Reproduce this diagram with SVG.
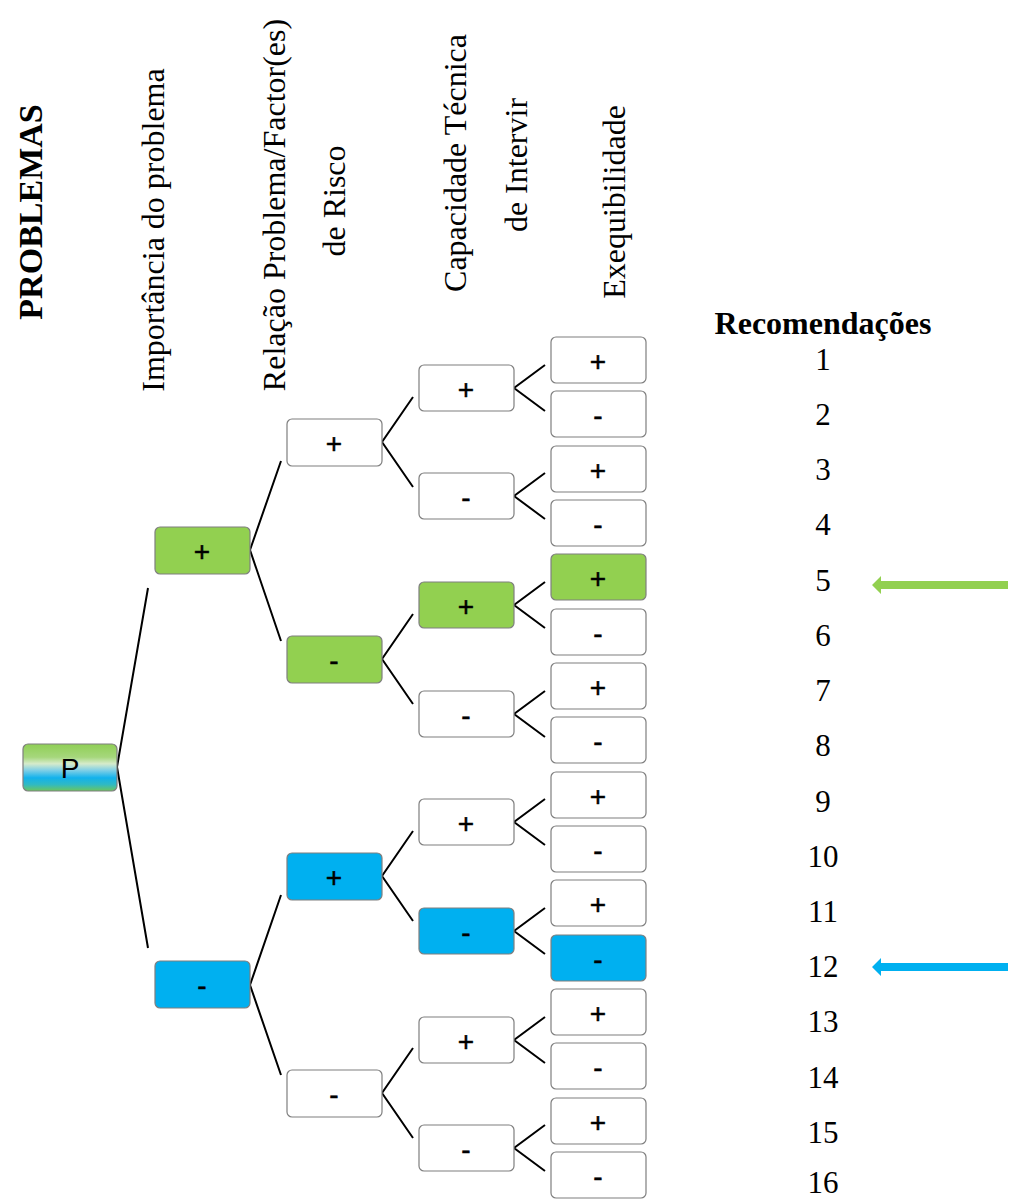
<svg xmlns="http://www.w3.org/2000/svg" width="1009" height="1201" viewBox="0 0 1009 1201">
<defs>
<linearGradient id="gP" x1="0" y1="0" x2="0" y2="1">
<stop offset="0" stop-color="#8fcf55"/>
<stop offset="0.28" stop-color="#a6d77c"/>
<stop offset="0.42" stop-color="#d6ebcb"/>
<stop offset="0.56" stop-color="#7fcfe6"/>
<stop offset="0.72" stop-color="#12b2ec"/>
<stop offset="0.86" stop-color="#2fb9c4"/>
<stop offset="1" stop-color="#6cc65c"/>
</linearGradient>
</defs>
<style>
.box{stroke:#7f7f7f;stroke-width:1.2}
.w{fill:#ffffff}
.g{fill:#92d050}
.b{fill:#00b0f0}
.bt{font-family:"Liberation Sans","Open Sans",sans-serif;font-size:28px;fill:#000;stroke:#000;stroke-width:0.5;text-anchor:middle;dominant-baseline:central}
.hd{font-family:"Liberation Serif","Times New Roman",serif;font-size:32px;fill:#000;text-anchor:middle}
.hb{font-weight:bold}
.num{font-family:"Liberation Serif","Times New Roman",serif;font-size:31px;fill:#000;text-anchor:middle}
.cn{stroke:#000;stroke-width:2;fill:none}
</style>

<g id="headers">
<text class="hd hb" transform="translate(42,212) rotate(-90)" style="font-size:34px">PROBLEMAS</text>
<text class="hd" transform="translate(164,230) rotate(-90)">Importância do problema</text>
<text class="hd" transform="translate(285,205) rotate(-90)">Relação Problema/Factor(es)</text>
<text class="hd" transform="translate(345,201) rotate(-90)">de Risco</text>
<text class="hd" transform="translate(466,163) rotate(-90)">Capacidade Técnica</text>
<text class="hd" transform="translate(527,165) rotate(-90)">de Intervir</text>
<text class="hd" transform="translate(625,202) rotate(-90)">Exequibilidade</text>
<text class="hd hb" x="823" y="334">Recomendações</text>
</g>

<g id="connectors">
<path class="cn" d="M148,588 L117,767 L148,948"/>
<path class="cn" d="M281,461 L250,550 L281,641"/>
<path class="cn" d="M281,895 L250,985 L281,1075"/>
<path class="cn" d="M413,397 L382,442 L413,487"/>
<path class="cn" d="M413,614 L382,659 L413,704"/>
<path class="cn" d="M413,831 L382,876 L413,921"/>
<path class="cn" d="M413,1048 L382,1093 L413,1138"/>
<path class="cn" d="M545,365 L514,388 L545,411"/>
<path class="cn" d="M545,473 L514,496 L545,519"/>
<path class="cn" d="M545,582 L514,605 L545,628"/>
<path class="cn" d="M545,691 L514,714 L545,737"/>
<path class="cn" d="M545,799 L514,822 L545,845"/>
<path class="cn" d="M545,908 L514,931 L545,954"/>
<path class="cn" d="M545,1017 L514,1040 L545,1063"/>
<path class="cn" d="M545,1125 L514,1148 L545,1171"/>
</g>

<g id="node-P"><rect class="box" x="23" y="744" width="94" height="47" rx="5" fill="url(#gP)"/><text class="bt" x="70" y="768" style="stroke-width:0">P</text></g>

<g id="node-1p"><rect class="box g" x="155" y="527" width="95" height="47" rx="5"/><text class="bt" x="202" y="551">+</text></g>
<g id="node-1m"><rect class="box b" x="155" y="961" width="95" height="47" rx="5"/><text class="bt" x="202" y="985">-</text></g>

<g id="node-2a"><rect class="box w" x="287" y="419" width="95" height="47" rx="5"/><text class="bt" x="334" y="443">+</text></g>
<g id="node-2b"><rect class="box g" x="287" y="636" width="95" height="47" rx="5"/><text class="bt" x="334" y="660">-</text></g>
<g id="node-2c"><rect class="box b" x="287" y="853" width="95" height="47" rx="5"/><text class="bt" x="334" y="877">+</text></g>
<g id="node-2d"><rect class="box w" x="287" y="1070" width="95" height="47" rx="5"/><text class="bt" x="334" y="1094">-</text></g>

<g id="node-3a"><rect class="box w" x="419" y="365" width="95" height="46" rx="5"/><text class="bt" x="466" y="389">+</text></g>
<g id="node-3b"><rect class="box w" x="419" y="473" width="95" height="46" rx="5"/><text class="bt" x="466" y="497">-</text></g>
<g id="node-3c"><rect class="box g" x="419" y="582" width="95" height="46" rx="5"/><text class="bt" x="466" y="606">+</text></g>
<g id="node-3d"><rect class="box w" x="419" y="691" width="95" height="46" rx="5"/><text class="bt" x="466" y="715">-</text></g>
<g id="node-3e"><rect class="box w" x="419" y="799" width="95" height="46" rx="5"/><text class="bt" x="466" y="823">+</text></g>
<g id="node-3f"><rect class="box b" x="419" y="908" width="95" height="46" rx="5"/><text class="bt" x="466" y="932">-</text></g>
<g id="node-3g"><rect class="box w" x="419" y="1017" width="95" height="46" rx="5"/><text class="bt" x="466" y="1041">+</text></g>
<g id="node-3h"><rect class="box w" x="419" y="1125" width="95" height="46" rx="5"/><text class="bt" x="466" y="1149">-</text></g>

<g id="node-4-1"><rect class="box w" x="551" y="337" width="95" height="46" rx="5"/><text class="bt" x="598" y="361">+</text></g>
<g id="node-4-2"><rect class="box w" x="551" y="391" width="95" height="46" rx="5"/><text class="bt" x="598" y="415">-</text></g>
<g id="node-4-3"><rect class="box w" x="551" y="446" width="95" height="46" rx="5"/><text class="bt" x="598" y="470">+</text></g>
<g id="node-4-4"><rect class="box w" x="551" y="500" width="95" height="46" rx="5"/><text class="bt" x="598" y="524">-</text></g>
<g id="node-4-5"><rect class="box g" x="551" y="554" width="95" height="46" rx="5"/><text class="bt" x="598" y="578">+</text></g>
<g id="node-4-6"><rect class="box w" x="551" y="609" width="95" height="46" rx="5"/><text class="bt" x="598" y="633">-</text></g>
<g id="node-4-7"><rect class="box w" x="551" y="663" width="95" height="46" rx="5"/><text class="bt" x="598" y="687">+</text></g>
<g id="node-4-8"><rect class="box w" x="551" y="717" width="95" height="46" rx="5"/><text class="bt" x="598" y="741">-</text></g>
<g id="node-4-9"><rect class="box w" x="551" y="772" width="95" height="46" rx="5"/><text class="bt" x="598" y="796">+</text></g>
<g id="node-4-10"><rect class="box w" x="551" y="826" width="95" height="46" rx="5"/><text class="bt" x="598" y="850">-</text></g>
<g id="node-4-11"><rect class="box w" x="551" y="880" width="95" height="46" rx="5"/><text class="bt" x="598" y="904">+</text></g>
<g id="node-4-12"><rect class="box b" x="551" y="935" width="95" height="46" rx="5"/><text class="bt" x="598" y="959">-</text></g>
<g id="node-4-13"><rect class="box w" x="551" y="989" width="95" height="46" rx="5"/><text class="bt" x="598" y="1013">+</text></g>
<g id="node-4-14"><rect class="box w" x="551" y="1043" width="95" height="46" rx="5"/><text class="bt" x="598" y="1067">-</text></g>
<g id="node-4-15"><rect class="box w" x="551" y="1098" width="95" height="46" rx="5"/><text class="bt" x="598" y="1122">+</text></g>
<g id="node-4-16"><rect class="box w" x="551" y="1152" width="95" height="46" rx="5"/><text class="bt" x="598" y="1176">-</text></g>

<g id="recommendations">
<text class="num" x="823" y="370">1</text>
<text class="num" x="823" y="425">2</text>
<text class="num" x="823" y="480">3</text>
<text class="num" x="823" y="535">4</text>
<text class="num" x="823" y="591">5</text>
<text class="num" x="823" y="646">6</text>
<text class="num" x="823" y="701">7</text>
<text class="num" x="823" y="756">8</text>
<text class="num" x="823" y="812">9</text>
<text class="num" x="823" y="867">10</text>
<text class="num" x="823" y="922">11</text>
<text class="num" x="823" y="977">12</text>
<text class="num" x="823" y="1032">13</text>
<text class="num" x="823" y="1088">14</text>
<text class="num" x="823" y="1143">15</text>
<text class="num" x="823" y="1193">16</text>
</g>

<g id="arrows">
<path d="M1008,581 L881,581 L881,576 L872,585 L881,594 L881,589 L1008,589 Z" fill="#92d050"/>
<path d="M1008,963 L881,963 L881,958 L872,967 L881,976 L881,971 L1008,971 Z" fill="#00b0f0"/>
</g>
</svg>
